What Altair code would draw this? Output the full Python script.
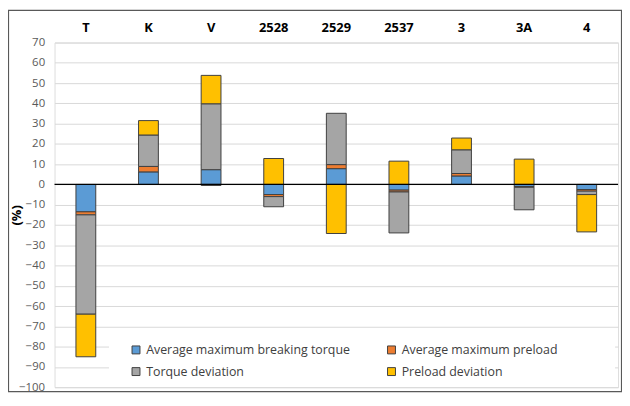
import altair as alt
import pandas as pd

categories = ["T", "K", "V", "2528", "2529", "2537", "3", "3A", "4"]
series_names = ["Average maximum breaking torque", "Average maximum preload",
                "Torque deviation", "Preload deviation"]
series_colors = ["#5B9BD5", "#ED7D31", "#A5A5A5", "#FFC000"]

breaking_torque = [-13.5, 6.2, 7.3, -5.0, 7.8, -2.8, 4.2, -1.0, -2.5]
max_preload = [-1.5, 2.7, -0.5, -1.0, 2.0, -0.9, 1.2, -0.4, -0.8]
torque_dev = [-49.0, 15.5, 32.5, -5.0, 25.3, -20.2, 11.7, -11.1, -1.7]
preload_dev = [-21.0, 7.1, 14.0, 12.8, -24.2, 11.5, 5.8, 12.5, -18.4]

y_ticks = list(range(-100, 71, 10))

rows = []
for s_i, (name, vals) in enumerate(zip(series_names,
                                       [breaking_torque, max_preload, torque_dev, preload_dev])):
    for c, v in zip(categories, vals):
        rows.append({"cat": c, "series": name, "value": v, "ord": s_i})
df = pd.DataFrame(rows)

FONT = "Open Sans"
W, H = 569, 348

x_enc = alt.X("cat:N", sort=categories,
              scale=alt.Scale(paddingInner=0, paddingOuter=0),
              axis=alt.Axis(orient="top", title=None, domain=False, ticks=False,
                            labelAngle=0, labelFontWeight="bold", labelFontSize=13,
                            labelColor="#000000", labelFont=FONT, labelPadding=8,
                            grid=False))

y_scale = alt.Scale(domain=[-100, 70], nice=False, zero=False)
y_axis = alt.Axis(values=y_ticks, title="(%)", grid=True, gridColor="#d9d9d9",
                  gridWidth=1, domain=False, ticks=False, labelFontSize=11.5,
                  labelColor="#595959", labelFont=FONT, labelPadding=10,
                  labelOverlap=False,
                  titleFont=FONT, titleFontSize=13, titleFontWeight="bold",
                  titleColor="#000000", titleAngle=270, titleX=-38, titleY=174,
                  titleAlign="center", titleBaseline="middle")

bars = alt.Chart(df).mark_bar(size=20, stroke="#404040", strokeWidth=1).encode(
    x=x_enc,
    y=alt.Y("sum(value):Q", stack="zero", scale=y_scale, axis=y_axis),
    color=alt.Color("series:N", sort=series_names,
                    scale=alt.Scale(domain=series_names, range=series_colors),
                    legend=alt.Legend(title=None, orient="none", legendX=76, legendY=304,
                                      columns=2, direction="horizontal",
                                      columnPadding=35, rowPadding=9,
                                      symbolType="square", symbolSize=64,
                                      symbolStrokeColor="#404040", symbolStrokeWidth=1,
                                      labelFont=FONT, labelFontSize=12.5, labelLimit=400,
                                      labelColor="#404040", labelOffset=4)),
    order=alt.Order("ord:Q", sort="ascending"),
)

zero_line = alt.Chart(pd.DataFrame({"z": [0]})).mark_rule(color="#000000", strokeWidth=1.2).encode(
    y=alt.Y("z:Q", scale=y_scale, axis=y_axis)
)

legend_bg = alt.Chart(pd.DataFrame({"a": [-74], "b": [-96]})).mark_rect(color="white").encode(
    y=alt.Y("a:Q", scale=y_scale, axis=y_axis), y2="b:Q", x=alt.value(55), x2=alt.value(566)
)

border = alt.Chart(pd.DataFrame({"a": [0]})).mark_rect(
    fill=None, stroke="#595959", strokeWidth=1.2).encode(
    x=alt.value(-46.5), x2=alt.value(572.5), y=alt.value(-32.5), y2=alt.value(352.5)
)

chart = alt.layer(bars, legend_bg, zero_line, border).properties(
    width=W, height=H,
    padding={"left": 47, "top": 33, "right": 4, "bottom": 5},
    autosize=alt.AutoSizeParams(type="none"),
).configure_view(stroke=None).configure(background="white")

chart.save("out.html", embed_options={"renderer": "svg", "actions": False})
